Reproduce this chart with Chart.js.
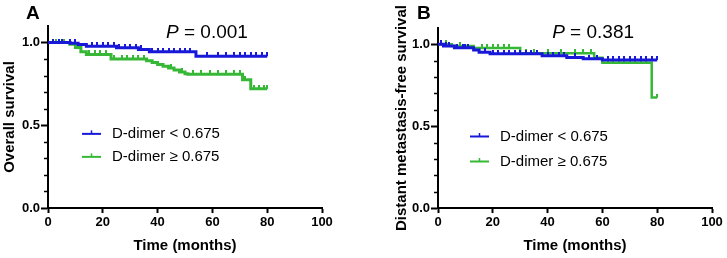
<!DOCTYPE html>
<html>
<head>
    <title>D-dimer Kaplan-Meier</title>
    <script src="https://cdn.jsdelivr.net/npm/chart.js"></script>
    <style>
        body { margin: 0; background: #fff; }
        canvas { position: absolute; top: 0; }
        #chartA { left: 0; }
        #chartB { left: 363px; }
    </style>
</head>
<body>
    <canvas id="chartA" width="363" height="258"></canvas>
    <canvas id="chartB" width="364" height="258"></canvas>
    <script>
// --- data ---
const groupLabels = ['D-dimer < 0.675', 'D-dimer \u2265 0.675'];
const xTicks = [0, 20, 40, 60, 80, 100];
const yTicks = [0, 0.5, 1.0];
const yMinorTicks = [0.1, 0.2, 0.3, 0.4, 0.6, 0.7, 0.8, 0.9];

// A: overall survival (step times, survival after step)
const osLowT  = [0, 8, 11, 14, 25, 33, 37, 54, 80];
const osLowS  = [1.0, 0.995, 0.988, 0.978, 0.968, 0.958, 0.945, 0.917, 0.917];
const osLowCens = [2, 4, 5, 8, 10, 16, 18, 20, 22, 24, 26, 28, 30, 32, 34, 38, 40, 42, 44, 46, 48, 50, 52, 58, 62, 65, 68, 70, 72, 74, 76, 78, 80];
const osHighT = [0, 8, 10, 12, 14, 23, 36, 38, 40, 42, 44, 46, 48, 50, 51, 71, 74, 80];
const osHighS = [1.0, 0.99, 0.97, 0.945, 0.928, 0.90, 0.89, 0.88, 0.868, 0.857, 0.846, 0.834, 0.822, 0.812, 0.808, 0.775, 0.72, 0.72];
const osHighCens = [3, 6, 15, 17, 19, 21, 24, 27, 29, 31, 33, 35, 45, 49, 53, 56, 59, 62, 65, 68, 70, 72, 75, 77, 79, 80];

// B: distant metastasis-free survival
const dmLowT  = [0, 2, 6, 13, 15, 19, 38, 47, 53, 60, 80];
const dmLowS  = [1.0, 0.99, 0.98, 0.965, 0.952, 0.942, 0.93, 0.92, 0.912, 0.905, 0.905];
const dmLowCens = [1, 3, 4, 7, 9, 10, 11, 17, 20, 22, 24, 26, 28, 30, 32, 34, 36, 40, 42, 44, 46, 50, 55, 58, 62, 64, 66, 68, 70, 72, 74, 76, 78, 80];
const dmHighT = [0, 5, 13, 30, 57, 60, 78, 80];
const dmHighS = [1.0, 0.99, 0.978, 0.946, 0.918, 0.888, 0.675, 0.675];
const dmHighCens = [3, 8, 16, 18, 20, 22, 24, 26, 30, 32, 35, 40, 45, 50, 53, 56, 62, 64, 66, 68, 70, 72, 74, 76, 80];

const BLUE = '#1818d8';
const GREEN = '#36b836';

function survAt(ts, ss, t) {
    let s = ss[0];
    for (let i = 0; i < ts.length; i++) if (ts[i] <= t) s = ss[i];
    return s;
}

// small upward tick used as censor mark
function tickMark(color) {
    const c = document.createElement('canvas');
    c.width = 2; c.height = 8;
    const g = c.getContext('2d');
    g.fillStyle = color;
    g.fillRect(0, 0, 2, 4);
    return c;
}

function curve(ts, ss, color, width) {
    return {
        type: 'line',
        data: ts.map((t, i) => ({ x: t, y: ss[i] })),
        borderColor: color,
        borderWidth: width,
        stepped: true,
        pointRadius: 0,
        fill: false
    };
}

function censor(ts, ss, cens, color) {
    return {
        type: 'scatter',
        data: cens.map(t => ({ x: t, y: survAt(ts, ss, t) })),
        pointStyle: tickMark(color),
        pointRadius: 3,
        showLine: false
    };
}

const kmDecor = {
    id: 'kmDecor',
    afterDraw(chart, args, opts) {
        const ctx = chart.ctx;
        const xs = chart.scales.x, ys = chart.scales.y;
        ctx.save();
        // minor y ticks
        ctx.strokeStyle = '#000';
        ctx.lineWidth = 1.5;
        yMinorTicks.forEach(v => {
            const py = Math.round(ys.getPixelForValue(v)) + 0.5;
            ctx.beginPath();
            ctx.moveTo(xs.left - 4, py);
            ctx.lineTo(xs.left, py);
            ctx.stroke();
        });
        // panel letter
        ctx.fillStyle = '#000';
        ctx.font = 'bold 19px "Liberation Sans", Arial, sans-serif';
        ctx.textBaseline = 'alphabetic';
        ctx.textAlign = 'left';
        ctx.fillText(opts.letter, opts.letterX, 19);
        // P value
        ctx.font = 'italic 19px "Liberation Sans", Arial, sans-serif';
        const wP = ctx.measureText('P').width;
        ctx.font = '19px "Liberation Sans", Arial, sans-serif';
        const rest = ' = ' + opts.pValue;
        const wR = ctx.measureText(rest).width;
        const cx = xs.getPixelForValue(opts.pAt);
        let x0 = cx - (wP + wR) / 2;
        ctx.textBaseline = 'middle';
        ctx.font = 'italic 19px "Liberation Sans", Arial, sans-serif';
        ctx.fillText('P', x0, 33);
        ctx.font = '19px "Liberation Sans", Arial, sans-serif';
        ctx.fillText(rest, x0 + wP, 33);
        // legend
        const colors = [BLUE, GREEN];
        ctx.font = '15px "Liberation Sans", Arial, sans-serif';
        groupLabels.forEach((lab, i) => {
            const lx = xs.left + opts.legendDx;
            const ly = ys.getPixelForValue(opts.legendY) + i * opts.legendGap;
            ctx.strokeStyle = colors[i];
            ctx.lineWidth = 2;
            ctx.beginPath();
            ctx.moveTo(lx, ly);
            ctx.lineTo(lx + 19, ly);
            ctx.stroke();
            ctx.lineWidth = 1.5;
            ctx.beginPath();
            ctx.moveTo(lx + 9.5, ly - 3.5);
            ctx.lineTo(lx + 9.5, ly);
            ctx.stroke();
            ctx.fillStyle = '#000';
            ctx.fillText(lab, lx + 30, ly);
        });
        ctx.restore();
    }
};

function makeChart(id, datasets, yTitle, yTitlePad, yWidth, pad, decor) {
    const tickFont = { family: '"Liberation Sans", Arial, sans-serif', size: 13, weight: 'bold' };
    const titleFont = { family: '"Liberation Sans", Arial, sans-serif', size: 15, weight: 'bold' };
    return new Chart(document.getElementById(id), {
        data: { datasets },
        options: {
            responsive: false,
            animation: false,
            layout: { padding: pad },
            plugins: { legend: { display: false }, tooltip: { enabled: false }, kmDecor: decor },
            scales: {
                x: {
                    type: 'linear', min: 0, max: 100,
                    afterBuildTicks: s => { s.ticks = xTicks.map(v => ({ value: v })); },
                    afterFit: s => { s.height = 50; },
                    ticks: { font: tickFont, color: '#000', padding: 2 },
                    grid: { drawOnChartArea: false, tickLength: 5, tickWidth: 2, tickColor: '#000' },
                    border: { color: '#000', width: 2 },
                    title: { display: true, text: 'Time (months)', font: titleFont, color: '#000', padding: { top: 0, bottom: 3 } }
                },
                y: {
                    type: 'linear', min: 0, max: 1.1,
                    afterBuildTicks: s => { s.ticks = yTicks.map(v => ({ value: v })); },
                    afterFit: s => { s.width = yWidth; },
                    ticks: { font: tickFont, color: '#000', padding: 1, callback: v => v.toFixed(1) },
                    grid: { drawOnChartArea: false, tickLength: 7, tickWidth: 2, tickColor: '#000' },
                    border: { color: '#000', width: 2 },
                    title: { display: true, text: yTitle, font: titleFont, color: '#000', padding: { top: yTitlePad, bottom: 0 } }
                }
            }
        },
        plugins: [kmDecor]
    });
}

makeChart('chartA', [
    curve(osLowT, osLowS, BLUE, 3),
    censor(osLowT, osLowS, osLowCens, BLUE),
    curve(osHighT, osHighS, GREEN, 3),
    censor(osHighT, osHighS, osHighCens, GREEN)
], 'Overall survival', 1, 48, { top: 26, right: 41, bottom: 0, left: 0 },
   { letter: 'A', letterX: 26, pValue: '0.001', pAt: 58, legendDx: 34, legendY: 0.448, legendGap: 23 });

makeChart('chartB', [
    curve(dmLowT, dmLowS, BLUE, 3),
    censor(dmLowT, dmLowS, dmLowCens, BLUE),
    curve(dmHighT, dmHighS, GREEN, 2.5),
    censor(dmHighT, dmHighS, dmHighCens, GREEN)
], 'Distant metastasis-free survival', 30, 75, { top: 28, right: 15, bottom: 0, left: 0 },
   { letter: 'B', letterX: 54, pValue: '0.381', pAt: 56.6, legendDx: 32, legendY: 0.437, legendGap: 25 });
    </script>
</body>
</html>
